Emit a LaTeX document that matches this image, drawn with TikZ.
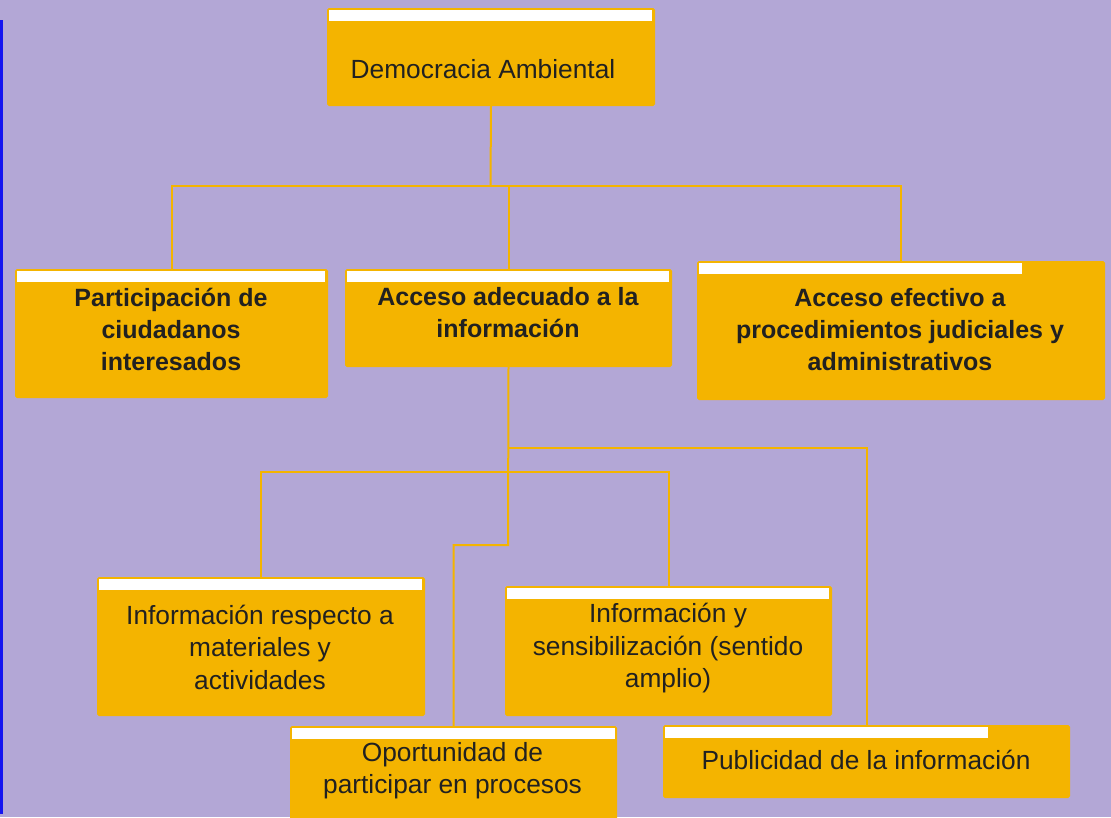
\documentclass[tikz,border=0pt]{standalone}
\usepackage{fontspec}
\setmainfont{Liberation Sans}
\definecolor{fondo}{HTML}{B3A7D6}
\definecolor{ambar}{HTML}{F4B400}
\definecolor{tinta}{HTML}{212121}
\definecolor{azul}{HTML}{1414F0}
\tikzset{
  cajon/.style={fill=ambar, draw=ambar, line width=1pt, rounded corners=1.5pt, anchor=north west, inner sep=0pt},
  texto/.style={text=tinta, align=center, font=\fontsize{26.3}{32.5}\selectfont},
  negrita/.style={text=tinta, align=center, font=\fontsize{25}{32}\selectfont\bfseries},
  enlace/.style={draw=ambar, line width=2pt}
}
% white strip on top of each box
\newcommand{\franja}[2]{\fill[white] ([shift={(2,2)}]#1.north west) rectangle +(#2,11);}
\begin{document}
\begin{tikzpicture}[x=1pt, y=-1pt]
    % background
    \fill[fondo] (0,0) rectangle (1111,817);
    \useasboundingbox (0,0) rectangle (1111,817);
    \fill[azul] (0,20) rectangle (3,814);
    % democracia ambiental
    \node[cajon, minimum width=327, minimum height=97] (demo) at (327,8) {};
    \franja{demo}{323}
    \node[texto] (tdemo) at (483,69.5) {Democracia Ambiental};
    % participacion
    \node[cajon, minimum width=312, minimum height=128] (part) at (15,269) {};
    \franja{part}{308}
    \node[negrita] (tpart) at (171,329) {Participación de\\ciudadanos\\interesados};
    % acceso a la informacion
    \node[cajon, minimum width=326, minimum height=97] (adec) at (345,269) {};
    \franja{adec}{322}
    \node[negrita] (tadec) at (508,313) {Acceso adecuado a la\\información};
    % acceso a procedimientos
    \node[cajon, minimum width=407, minimum height=138] (efec) at (697,261) {};
    \franja{efec}{323}
    \node[negrita] (tefec) at (900,330) {Acceso efectivo a\\procedimientos judiciales y\\administrativos};
    % informacion respecto a materiales
    \node[cajon, minimum width=327, minimum height=138] (resp) at (97,577) {};
    \franja{resp}{323}
    \node[texto] (tresp) at (260,647) {Información respecto a\\materiales y\\actividades};
    % sensibilizacion
    \node[cajon, minimum width=326, minimum height=129] (sens) at (505,586) {};
    \franja{sens}{322}
    \node[texto] (tsens) at (668,648.5) {Información y\\sensibilización (sentido\\amplio)};
    % oportunidad de participar
    \node[cajon, minimum width=326, minimum height=100] (oport) at (290,726) {};
    \franja{oport}{323}
    \node[texto] (toport) at (452.5,770.5) {Oportunidad de\\participar en procesos};
    % publicidad
    \node[cajon, minimum width=406, minimum height=72] (publ) at (663,725) {};
    \franja{publ}{323}
    \node[texto] (tpubl) at (866,760) {Publicidad de la información};
    % connectors, first level
    \coordinate (bus1) at (490.5,186);
    \draw[enlace] (demo.south) -- (bus1);
    \draw[enlace] (part.north) |- (bus1 -| efec.north) -- (efec.north);
    \draw[enlace] (adec.north) -- (adec.north |- bus1);
    % connectors, second level
    \coordinate (bus2) at (508,448);
    \coordinate (bus3) at (508,472);
    \coordinate (bus4) at (508,545);
    \draw[enlace] (adec.south) -- (bus4) -| (oport.north);
    \draw[enlace] (bus2) -| (publ.north);
    \draw[enlace] (bus3) -| (resp.north);
    \draw[enlace] (bus3) -| (sens.north);
\end{tikzpicture}
\end{document}
